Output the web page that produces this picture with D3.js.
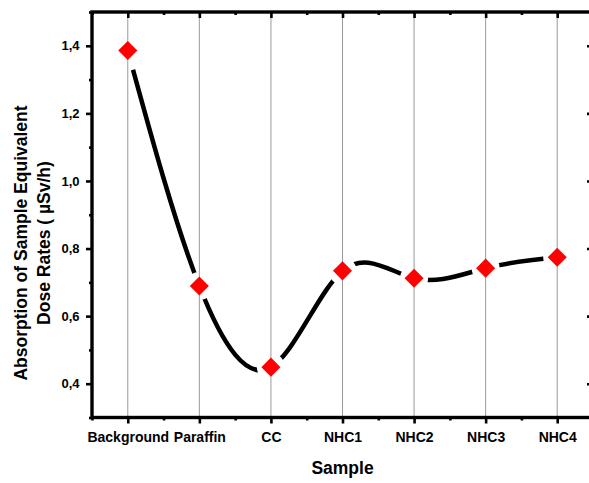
<!DOCTYPE html>
<html>
<head>
<meta charset="utf-8">
<script src="https://cdn.jsdelivr.net/npm/d3@7"></script>
<style>
  html, body { margin: 0; padding: 0; background: #fff; }
  svg { display: block; font-family: "Liberation Sans", Arial, sans-serif; }
</style>
</head>
<body>
<svg id="chart" width="589" height="483"></svg>
<script>
// Samples and their measured equivalent dose-rate absorption (µSv/h)
const samples = ["Background", "Paraffin", "CC", "NHC1", "NHC2", "NHC3", "NHC4"];
const doseRates = [1.386, 0.689, 0.449, 0.734, 0.712, 0.742, 0.774];
const yMajorTicks = [0.4, 0.6, 0.8, 1.0, 1.2, 1.4];
const yMinorTicks = [0.3, 0.5, 0.7, 0.9, 1.1, 1.3, 1.5];
const xTitle = "Sample";
const yTitleLines = ["Absorption of Sample Equivalent", "Dose Rates ( \u00b5Sv/h)"];

const svg = d3.select("#chart");
const plotLeft = 92, plotRight = 593, plotTop = 12, plotBottom = 417.5;

const x = d3.scaleLinear().domain([-0.5, samples.length - 0.5]).range([plotLeft, plotRight]);
const y = d3.scaleLinear().domain([0.3, 1.5]).range([plotBottom, plotTop]);

const xMajor = samples.map((d, i) => i);
const xMinor = d3.range(-0.5, samples.length, 1);
const fmtY = v => d3.format(".1f")(v).replace(".", ",");

// vertical grid lines at each sample
svg.append("g").selectAll("line").data(xMajor).join("line")
  .attr("x1", d => x(d)).attr("x2", d => x(d))
  .attr("y1", plotTop).attr("y2", plotBottom)
  .attr("stroke", "#9a9a9a").attr("stroke-width", 1);

// mask that opens a gap in the curve around every marker
const defs = svg.append("defs");
const mask = defs.append("mask").attr("id", "gapMask").attr("maskUnits", "userSpaceOnUse")
  .attr("x", 0).attr("y", 0).attr("width", 589).attr("height", 483);
mask.append("rect").attr("width", 589).attr("height", 483).attr("fill", "#fff");
mask.selectAll("circle").data(doseRates).join("circle")
  .attr("cx", (d, i) => x(i)).attr("cy", d => y(d))
  .attr("r", (d, i) => i === 0 ? 20 : 14).attr("fill", "#000");

const line = d3.line().x((d, i) => x(i)).y(d => y(d)).curve(d3.curveNatural);
svg.append("path").datum(doseRates)
  .attr("d", line)
  .attr("fill", "none").attr("stroke", "#000").attr("stroke-width", 4.5)
  .attr("mask", "url(#gapMask)");

// axes: ticks and frame
function styleAxis(g) {
  g.select(".domain").remove();
  g.selectAll(".tick line").attr("stroke", "#000").attr("stroke-width", 2.6);
}

// bottom axis, major ticks with sample names
const gBottom = svg.append("g").attr("transform", `translate(0,${plotBottom})`)
  .call(d3.axisBottom(x).tickValues(xMajor).tickSize(6).tickFormat(i => samples[i]));
styleAxis(gBottom);
gBottom.selectAll(".tick text")
  .attr("y", 24.5).attr("dy", null)
  .attr("font-size", 14).attr("font-weight", "bold").attr("fill", "#000")
  .attr("font-family", "Liberation Sans, Arial, sans-serif");
const gBottomMinor = svg.append("g").attr("transform", `translate(0,${plotBottom})`)
  .call(d3.axisBottom(x).tickValues(xMinor).tickSize(3).tickFormat(""));
styleAxis(gBottomMinor);

// top axis, ticks pointing inward
const gTop = svg.append("g").attr("transform", `translate(0,${plotTop})`)
  .call(d3.axisBottom(x).tickValues(xMajor).tickSize(6).tickFormat(""));
styleAxis(gTop);
const gTopMinor = svg.append("g").attr("transform", `translate(0,${plotTop})`)
  .call(d3.axisBottom(x).tickValues(xMinor).tickSize(3).tickFormat(""));
styleAxis(gTopMinor);

// left axis
const gLeft = svg.append("g").attr("transform", `translate(${plotLeft},0)`)
  .call(d3.axisLeft(y).tickValues(yMajorTicks).tickSize(6).tickPadding(6.5).tickFormat(fmtY));
styleAxis(gLeft);
gLeft.selectAll(".tick text")
  .attr("font-size", 13).attr("font-weight", "bold").attr("fill", "#000")
  .attr("font-family", "Liberation Sans, Arial, sans-serif");
const gLeftMinor = svg.append("g").attr("transform", `translate(${plotLeft},0)`)
  .call(d3.axisLeft(y).tickValues(yMinorTicks).tickSize(3).tickFormat(""));
styleAxis(gLeftMinor);

// right axis, ticks pointing inward
const gRight = svg.append("g").attr("transform", `translate(${plotRight},0)`)
  .call(d3.axisLeft(y).tickValues(yMajorTicks).tickSize(6).tickFormat(""));
styleAxis(gRight);
const gRightMinor = svg.append("g").attr("transform", `translate(${plotRight},0)`)
  .call(d3.axisLeft(y).tickValues(yMinorTicks).tickSize(3).tickFormat(""));
styleAxis(gRightMinor);

// frame
svg.append("rect")
  .attr("x", plotLeft).attr("y", plotTop)
  .attr("width", plotRight - plotLeft).attr("height", plotBottom - plotTop)
  .attr("fill", "none").attr("stroke", "#000").attr("stroke-width", 3.4);

// markers
svg.append("g").selectAll("path").data(doseRates).join("path")
  .attr("d", d3.symbol(d3.symbolSquare, 182))
  .attr("transform", (d, i) => `translate(${x(i)},${y(d)}) rotate(45)`)
  .attr("fill", "#ff0000");

// axis titles
svg.append("text")
  .attr("x", (plotLeft + plotRight) / 2).attr("y", 473.5)
  .attr("text-anchor", "middle")
  .attr("font-size", 17.5).attr("font-weight", "bold")
  .text(xTitle);

const yTitle = svg.append("text")
  .attr("transform", "translate(0,243) rotate(-90)")
  .attr("text-anchor", "middle")
  .attr("font-size", 17.5).attr("font-weight", "bold");
yTitle.selectAll("tspan").data(yTitleLines).join("tspan")
  .attr("x", 0).attr("y", (d, i) => i === 0 ? 27 : 50)
  .text(d => d);
</script>
</body>
</html>
